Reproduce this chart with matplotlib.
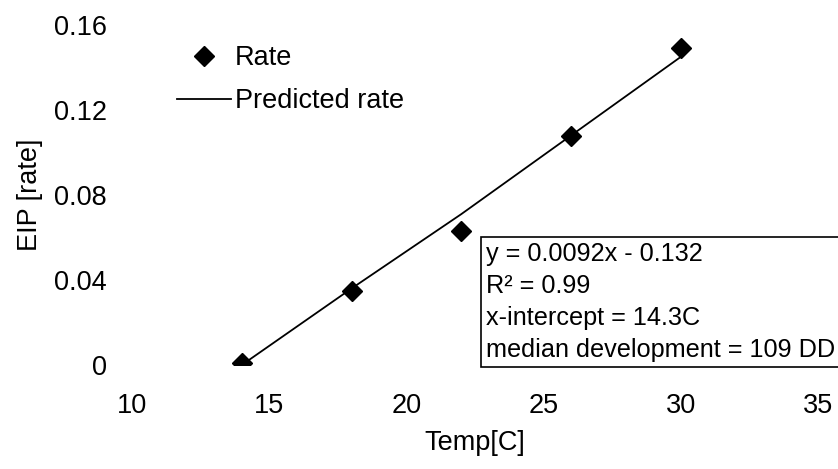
import matplotlib
matplotlib.use("Agg")
import matplotlib.pyplot as plt

plt.rcParams['font.family'] = ['Liberation Sans', 'DejaVu Sans']

# data
temp = [14, 18, 22, 26, 30]
rate = [0.001, 0.035, 0.063, 0.108, 0.149]
predicted = [0.0, 0.036, 0.071, 0.108, 0.145]

x_ticks = [10, 15, 20, 25, 30, 35]
y_ticks = [0, 0.04, 0.08, 0.12, 0.16]
y_tick_labels = ['0', '0.04', '0.08', '0.12', '0.16']

fit_text = ("y = 0.0092x - 0.132\n"
            "R² = 0.99\n"
            "x-intercept = 14.3C\n"
            "median development = 109 DD")

fs = 19.5

fig = plt.figure(figsize=(8.38, 4.69), dpi=100)
ax = fig.add_axes([0.1575, 0.2217, 0.8186, 0.725])

ax.plot(temp, rate, linestyle='none', marker='D', markersize=10,
        color='black', label='Rate')
ax.plot(temp, predicted, color='black', linewidth=1.3, label='Predicted rate')

ax.set_xlim(10, 35)
ax.set_ylim(0, 0.16)
ax.set_xticks(x_ticks)
ax.set_yticks(y_ticks)
ax.set_yticklabels(y_tick_labels)
ax.tick_params(axis='both', length=0, labelsize=fs)
ax.tick_params(axis='x', pad=20)
ax.tick_params(axis='y', pad=18)
for s in ax.spines.values():
    s.set_visible(False)

ax.set_xlabel('Temp[C]', fontsize=fs, labelpad=8)
ax.set_ylabel('EIP [rate]', fontsize=fs, labelpad=8)

ax.legend(loc='upper left', bbox_to_anchor=(0.03, 1.012), frameon=False,
          fontsize=fs, handlelength=2.0, handletextpad=0.15, labelspacing=0.62)

ax.text(22.9, 0.058, fit_text, ha='left', va='top', fontsize=18.2,
        linespacing=1.42, clip_on=False,
        bbox=dict(boxstyle='square,pad=0.2', facecolor='white',
                  edgecolor='black', linewidth=1.2))

fig.savefig('out.png', dpi=100)
